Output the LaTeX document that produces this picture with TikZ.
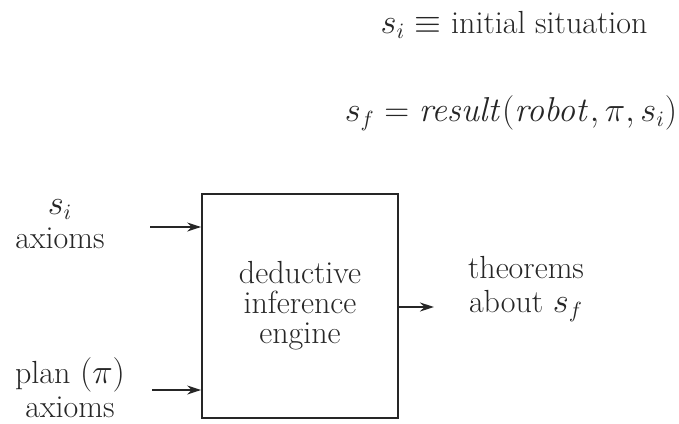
\documentclass[tikz,border=0pt]{standalone}
\usepackage{amsmath}
\usepackage{amssymb}
\usepackage{tikz}
\usetikzlibrary{arrows.meta, positioning, calc}

\begin{document}
\begin{tikzpicture}[
  x=0.5pt, y=-0.5pt,
  engbox/.style={rectangle, draw=black!85, line width=0.9pt,
                 minimum width=98pt, minimum height=112pt,
                 align=center, text=black!85, font=\fontsize{16}{15}\selectfont},
  label/.style={align=center, text=black!85, font=\fontsize{16}{17}\selectfont},
  arrow/.style={-{Stealth[length=7pt, width=4.5pt]}, line width=0.9pt, black!85}
]
\useasboundingbox (0,0) rectangle (679,423);

\node[label] (sitdef)   at (514,25)  {$s_i \equiv$ initial situation};
\node[label] (resulteq) at (511,113) {$s_f = \mathit{result}(\mathit{robot},\pi,s_i)$};

\node[engbox] (engine) at (300,306) {deductive\\inference\\engine};

\node[label] (siax)   at (60,224)  {$s_i$\\axioms};
\node[label] (planax) at (70,388)  {plan $(\pi)$\\axioms};
\node[label] (thm)    at (526,289) {theorems\\about $s_f$};

\coordinate (siin)   at (150,227);
\coordinate (planin) at (152,390);
\coordinate (out)    at (434,307);

\foreach \c in {siin, planin}
  \draw[arrow] (\c) -- (\c -| engine.west);
\draw[arrow] (out -| engine.east) -- (out);

\end{tikzpicture}
\end{document}
